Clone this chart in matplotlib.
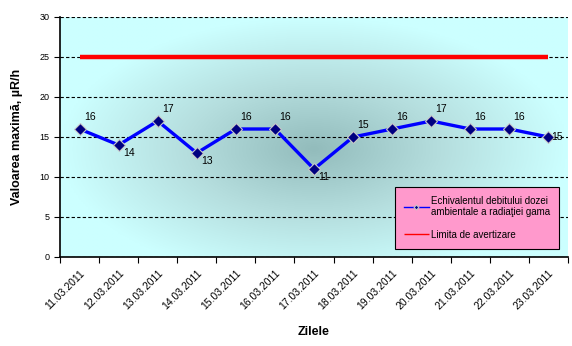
import matplotlib
matplotlib.use("Agg")
import matplotlib.pyplot as plt
from matplotlib.colors import LinearSegmentedColormap
import numpy as np

plt.rcParams['font.family'] = ['Liberation Sans', 'DejaVu Sans']

dates = ["11.03.2011", "12.03.2011", "13.03.2011", "14.03.2011", "15.03.2011",
         "16.03.2011", "17.03.2011", "18.03.2011", "19.03.2011", "20.03.2011",
         "21.03.2011", "22.03.2011", "23.03.2011"]
doza = [16, 14, 17, 13, 16, 16, 11, 15, 16, 17, 16, 16, 15]
limita = [25] * len(dates)
# where each data label sits relative to its point
label_pos = ["up", "down", "up", "down", "up", "up", "down", "up", "up", "up", "up", "up", "right"]

fig = plt.figure(figsize=(5.72, 3.46), dpi=100)
ax = fig.add_axes([60/572, 89/346, 508/572, 240/346])

# radial background like the Excel "from centre" fill
yy, xx = np.mgrid[0:1:200j, 0:1:300j]
r = np.sqrt(((xx - 0.5) / 0.5)**2 + ((yy - 0.45) / 0.55)**2)
r = np.clip(r, 0, 1)
cmap = LinearSegmentedColormap.from_list("bg", ["#93BCBC", "#B5DEDE", "#CCFFFF"])
ax.imshow(r, cmap=cmap, extent=[0, 1, 0, 1], transform=ax.transAxes,
          aspect="auto", origin="lower", zorder=0, interpolation="bilinear")

x = np.arange(len(dates))
ax.plot(x, limita, color="#FF0000", lw=3.2, zorder=3, label="Limita de avertizare",
        solid_capstyle="butt")
line, = ax.plot(x, doza, color="#0000FF", lw=2.4, marker="D", ms=6,
                mfc="#000080", mec="#C8C8C8", mew=0.8, zorder=4,
                label="Echivalentul debitului dozei\nambientale a radiaţiei gama")

for xi, v, pos in zip(x, doza, label_pos):
    if pos == "up":
        ax.annotate(str(v), (xi, v), xytext=(3, 5), textcoords="offset points",
                    fontsize=7.5, ha="left", va="bottom", zorder=5)
    elif pos == "down":
        ax.annotate(str(v), (xi, v), xytext=(3, -2), textcoords="offset points",
                    fontsize=7.5, ha="left", va="top", zorder=5)
    else:
        ax.annotate(str(v), (xi, v), xytext=(2, 0), textcoords="offset points",
                    fontsize=7.5, ha="left", va="center", zorder=5)

ax.set_xlim(-0.5, len(dates) - 0.5)
ax.set_ylim(0, 30)
ax.set_yticks(range(0, 31, 5))
ax.yaxis.grid(True, color="black", linestyle=(0, (3, 2)), lw=0.8)
ax.set_axisbelow(False)
for gl in ax.get_ygridlines():
    gl.set_zorder(1)

ax.set_xticks(np.arange(len(dates) + 1) - 0.5, minor=False)
ax.set_xticklabels([])
ax.set_xticks(x, minor=True)
ax.set_xticklabels(dates, minor=True, rotation=45, ha="right", va="top",
                   fontsize=7.5, rotation_mode="anchor")
ax.tick_params(axis="x", which="major", length=4, direction="out")
ax.tick_params(axis="x", which="minor", length=0, pad=8)
ax.tick_params(axis="y", length=4, labelsize=6.5, direction="out")

for side in ["top", "right"]:
    ax.spines[side].set_visible(False)
ax.spines["left"].set_linewidth(1.2)
ax.spines["bottom"].set_linewidth(1.2)

ax.set_ylabel("Valoarea maximă, µR/h", fontsize=9, fontweight="bold", labelpad=12)
ax.set_xlabel("Zilele", fontsize=9, fontweight="bold", labelpad=10)

leg = ax.legend(handles=[line, ax.lines[0]], loc="lower right",
                bbox_to_anchor=(0.982, 0.035), fontsize=7, frameon=True,
                fancybox=False, facecolor="#FF99CC", edgecolor="black",
                framealpha=1, handlelength=2.6, borderpad=0.9, labelspacing=1.3,
                handletextpad=0.2, borderaxespad=0)
leg.get_frame().set_linewidth(0.8)
for h in leg.legend_handles:
    h.set_linewidth(1)
    h.set_markersize(2.5)
leg.set_zorder(6)

fig.savefig("out.png", dpi=100)
